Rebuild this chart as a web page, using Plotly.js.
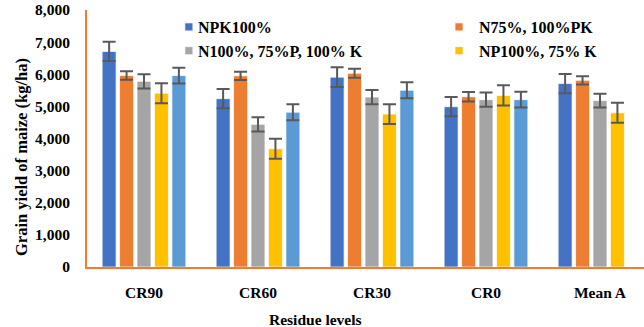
<!DOCTYPE html>
<html>
<head>
<meta charset="utf-8">
<script src="https://cdn.plot.ly/plotly-3.0.1.min.js"></script>
<style>html,body{margin:0;padding:0;background:#fff;}#chart{width:644px;height:327px;}</style>
</head>
<body>
<div id="chart"></div>
<script>
// Categories (residue levels)
const categories = ["CR90", "CR60", "CR30", "CR0", "Mean A"];

// Series names
const seriesNames = ["NPK100%", "N75%, 100%PK", "N100%, 75%P, 100% K", "NP100%, 75% K", "Mean B"];

// Grain yield values (kg/ha)
const npk100 = [6710, 5240, 5910, 4990, 5710];
const n75pk100 = [5960, 5950, 6030, 5300, 5810];
const n100p75k100 = [5780, 4440, 5290, 5210, 5180];
const np100k75 = [5410, 3680, 4760, 5340, 4800];
const meanB = [5960, 4820, 5500, 5210];

// Error bars (kg/ha)
const npk100Err = [300, 300, 310, 300, 300];
const n75pk100Err = [135, 130, 140, 145, 130];
const n100p75k100Err = [220, 220, 220, 220, 215];
const np100k75Err = [310, 310, 310, 315, 310];
const meanBErr = [245, 250, 250, 245];

// Y ticks
const yTickVals = [0, 1000, 2000, 3000, 4000, 5000, 6000, 7000, 8000];
const yTickText = ["0", "1,000", "2,000", "3,000", "4,000", "5,000", "6,000", "7,000", "8,000"];

const colors = ["#4472C4", "#ED7D31", "#A5A5A5", "#FFC000", "#5B9BD5"];
const legendIds = ["legend", "legend2", "legend", "legend2", "legend"];
const values = [npk100, n75pk100, n100p75k100, np100k75, meanB];
const errs = [npk100Err, n75pk100Err, n100p75k100Err, np100k75Err, meanBErr];

const serif = "Liberation Serif, Times New Roman, serif";

const traces = values.map((v, i) => ({
  type: "bar",
  name: seriesNames[i],
  x: categories.slice(0, v.length),
  y: v,
  legend: legendIds[i],
  showlegend: i < 4,
  marker: {color: colors[i], line: {color: "rgba(255,255,255,0.7)", width: 1}},
  error_y: {type: "data", array: errs[i], visible: true, color: "#595959", thickness: 2, width: 6.5}
}));

const legendFont = {family: serif, size: 16, color: "#000", weight: "bold"};

const layout = {
  width: 644, height: 327,
  margin: {l: 87, r: 0, t: 10, b: 60, pad: 0},
  paper_bgcolor: "#fff", plot_bgcolor: "#fff",
  barmode: "group",
  bargap: 0.235,
  bargroupgap: 0.2,
  showlegend: true,
  legend: {x: 0.147, xanchor: "left", y: 1.0, yanchor: "top", bgcolor: "rgba(0,0,0,0)",
           font: legendFont, tracegroupgap: 0, itemclick: false},
  legend2: {x: 0.632, xanchor: "left", y: 1.0, yanchor: "top", bgcolor: "rgba(0,0,0,0)",
            font: legendFont, tracegroupgap: 0, itemclick: false},
  xaxis: {
    type: "category",
    range: [-0.5, 4.386],
    showline: true, linecolor: "#ED7D31", linewidth: 2,
    showgrid: false, zeroline: false, ticks: "",
    ticklabelstandoff: 10,
    tickfont: {family: serif, size: 15.5, color: "#000", weight: "bold"}
  },
  yaxis: {
    range: [0, 8000],
    tickvals: yTickVals, ticktext: yTickText,
    showline: true, linecolor: "#ED7D31", linewidth: 2,
    showgrid: false, zeroline: false, ticks: "",
    ticklabelstandoff: 12,
    tickfont: {family: serif, size: 15.5, color: "#000", weight: "bold"}
  },
  annotations: [
    {text: "Grain yield of maize (kg/ha)", textangle: -90, xref: "paper", yref: "paper",
     x: (21 - 87) / 557, y: (267 - 157) / 257, xanchor: "center", yanchor: "middle", showarrow: false,
     font: {family: serif, size: 16.5, color: "#000", weight: "bold"}},
    {text: "Residue levels", xref: "paper", yref: "paper",
     x: (315 - 87) / 557, y: -(319 - 267) / 257, xanchor: "center", yanchor: "middle", showarrow: false,
     font: {family: serif, size: 15.5, color: "#000", weight: "bold"}}
  ]
};

Plotly.newPlot("chart", traces, layout, {displayModeBar: false, staticPlot: true}).then(gd => {
  // tighten legend entries: smaller square swatch, text closer to it
  gd.querySelectorAll(".legendpoints path").forEach(p => p.setAttribute("d", "M4,4H-4V-4H4Z"));
  gd.querySelectorAll(".legendtext").forEach(t => t.setAttribute("x", "29"));
});
</script>
</body>
</html>
